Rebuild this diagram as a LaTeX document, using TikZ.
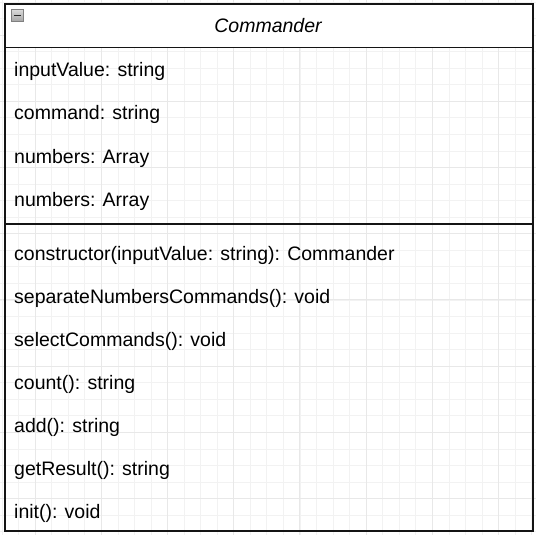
\documentclass[tikz,border=0pt]{standalone}
\usepackage{fontspec}
\setmainfont{Liberation Sans}
\begin{document}
\begin{tikzpicture}[x=1pt,y=-1pt,
  member/.style={anchor=base west, inner sep=0pt, font=\fontsize{19.5}{23}\selectfont},
  title/.style={anchor=base, inner sep=0pt, font=\fontsize{19.5}{23}\selectfont\itshape},
  part/.style={draw=black!92, line width=1.8pt, anchor=north west, minimum width=528pt, inner sep=0pt}]
\useasboundingbox (0,0) rectangle (536,535);
% grid
\foreach \k in {0,...,32} {
  \draw[black!5, line width=0.7pt] ({2+16.55*\k},0) -- ({2+16.55*\k},535);
  \draw[black!5, line width=0.7pt] (0,{2+16.55*\k}) -- (536,{2+16.55*\k});
}
\foreach \k in {2,6,...,30} {
  \draw[black!9, line width=0.9pt] ({2+16.55*\k},0) -- ({2+16.55*\k},535);
  \draw[black!9, line width=0.9pt] (0,{2+16.55*\k}) -- (536,{2+16.55*\k});
}

% class box
\node[part, fill=white, minimum height=43.7pt] (head) at (4,3) {};
\node[part, minimum height=176.3pt] (attrs) at (4,46.7) {};
\node[part, minimum height=307pt] (ops) at (4,223) {};
\node[title] (name) at (268,33) {Commander};

% fold icon
\node[draw=black!50, line width=0.8pt, top color=black!15, bottom color=black!35, minimum size=11.5pt, inner sep=0pt] (fold) at (17.5,15.5) {};
\draw[black!85, line width=1.8pt] ([xshift=-3.5pt]fold.center) -- ([xshift=3.5pt]fold.center);

% attributes
\node[member] (a1) at (14,77) {inputValue: string};
\node[member] (a2) at (14,120) {command: string};
\node[member] (a3) at (14,163) {numbers: Array};
\node[member] (a4) at (14,206) {numbers: Array};

% methods
\node[member] (m1) at (14,260) {constructor(inputValue: string): Commander};
\node[member] (m2) at (14,303) {separateNumbersCommands(): void};
\node[member] (m3) at (14,346) {selectCommands(): void};
\node[member] (m4) at (14,389) {count(): string};
\node[member] (m5) at (14,432) {add(): string};
\node[member] (m6) at (14,475) {getResult(): string};
\node[member] (m7) at (14,518) {init(): void};
\end{tikzpicture}
\end{document}
